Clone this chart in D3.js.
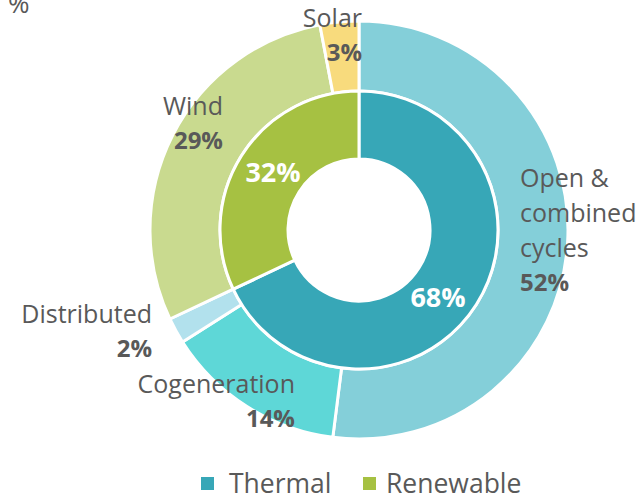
<!DOCTYPE html>
<html><head><meta charset="utf-8">
<script src="https://cdn.jsdelivr.net/npm/d3@7"></script>
<style>
html,body{margin:0;padding:0;background:#fff;}
svg{display:block;}
text{font-family:"Open Sans","Noto Sans",sans-serif;}
</style></head>
<body>
<svg id="chart" width="643" height="502"></svg>
<script>
// ---- data ----
const innerCategories = ["Thermal", "Renewable"];
const innerValues = [68, 32];
const innerColors = ["#37A7B7", "#A6C142"];

const outerCategories = ["Open & combined cycles", "Cogeneration", "Distributed", "Wind", "Solar"];
const outerValues = [52, 14, 2, 29, 3];
const outerColors = ["#84CFD9", "#5ED7D7", "#B2E1ED", "#C9DA8F", "#F8DB7D"];
const outerLabelLines = [["Open &", "combined", "cycles"], ["Cogeneration"], ["Distributed"], ["Wind"], ["Solar"]];

// ---- layout (positions relative to the centre) ----
const outerLabelLayout = [
  {dx: 161, dy: -43, anchor: "start"},
  {dx: -64, dy: 163, anchor: "end"},
  {dx: -207, dy: 93, anchor: "end"},
  {dx: -136, dy: -115, anchor: "end"},
  {dx: 3, dy: -203, anchor: "end"}
];
const innerLabelLayout = [
  {dx: 79, dy: 77},
  {dx: -86, dy: -48}
];

const svg = d3.select("#chart");
const cx = 359, cy = 230;
const g = svg.append("g").attr("transform", `translate(${cx},${cy})`);

const pie = d3.pie().sort(null).value(d => d);
const innerArc = d3.arc().innerRadius(71).outerRadius(139);
const outerArc = d3.arc().innerRadius(139).outerRadius(209);

g.selectAll("path.outer").data(pie(outerValues)).join("path")
  .attr("class", "outer")
  .attr("d", outerArc)
  .attr("fill", (d, i) => outerColors[i])
  .attr("stroke", "#fff").attr("stroke-width", 3).attr("stroke-linejoin", "round");

g.selectAll("path.inner").data(pie(innerValues)).join("path")
  .attr("class", "inner")
  .attr("d", innerArc)
  .attr("fill", (d, i) => innerColors[i])
  .attr("stroke", "#fff").attr("stroke-width", 3).attr("stroke-linejoin", "round");

// outer labels
const lineH = 35;
outerValues.forEach((v, i) => {
  const L = outerLabelLayout[i];
  const lines = outerLabelLines[i];
  const t = g.append("text")
    .attr("x", L.dx).attr("y", L.dy)
    .attr("text-anchor", L.anchor)
    .attr("fill", "#595959");
  lines.forEach((s, k) => {
    t.append("tspan").attr("x", L.dx).attr("dy", k === 0 ? 0 : lineH)
      .attr("font-size", 25).text(s);
  });
  t.append("tspan").attr("x", L.dx).attr("dy", lineH - 1)
    .attr("font-size", 24).attr("font-weight", "bold").text(v + "%");
});

// inner labels
innerValues.forEach((v, i) => {
  const L = innerLabelLayout[i];
  g.append("text").attr("x", L.dx).attr("y", L.dy)
    .attr("text-anchor", "middle")
    .attr("fill", "#fff").attr("font-weight", "bold").attr("font-size", 27)
    .text(v + "%");
});

// cut-off text at top-left
svg.append("text").attr("x", 8).attr("y", 13)
  .attr("fill", "#595959").attr("font-size", 26).text("%");

// legend
const legendItems = innerCategories.map((c, i) => ({name: c, color: innerColors[i]}));
const legendX = [201, 363];
const legendTextX = [229, 386];
const lg = svg.append("g");
legendItems.forEach((d, i) => {
  lg.append("rect").attr("x", legendX[i]).attr("y", 477).attr("width", 13).attr("height", 13).attr("fill", d.color);
  lg.append("text").attr("x", legendTextX[i]).attr("y", 493)
    .attr("fill", "#595959").attr("font-size", 26.5).text(d.name);
});
</script>
</body></html>
